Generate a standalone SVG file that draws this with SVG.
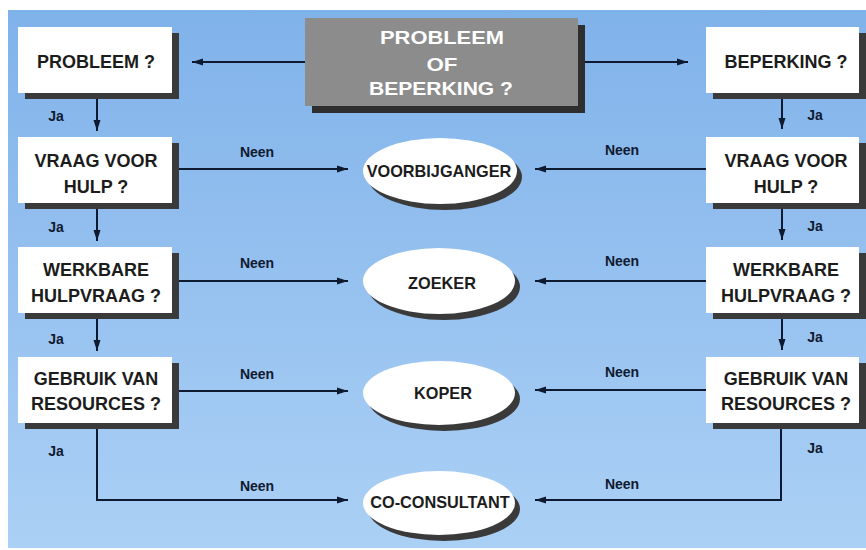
<svg xmlns="http://www.w3.org/2000/svg" width="866" height="550" viewBox="0 0 866 550">
<defs>
<linearGradient id="bg" x1="0" y1="0" x2="0" y2="1">
<stop offset="0" stop-color="#80b2ea"/>
<stop offset="1" stop-color="#abd0f5"/>
</linearGradient>
<marker id="arr" markerUnits="userSpaceOnUse" markerWidth="12" markerHeight="8" refX="11" refY="4" orient="auto">
<path d="M0,0.5 L11,4 L0,7.5 z" fill="#0e1a30"/>
</marker>
<style>
.ln{fill:none;stroke:#0e1a30;stroke-width:2}
.box{fill:#ffffff}
.sh{fill:#3a3a3a}
.t{font-family:"Liberation Sans",Arial,sans-serif;font-weight:bold;font-size:18px;fill:#1c1c1c;text-anchor:middle}
.e{font-family:"Liberation Sans",Arial,sans-serif;font-weight:bold;font-size:16.3px;fill:#1c1c1c;text-anchor:middle}
.c{font-family:"Liberation Sans",Arial,sans-serif;font-weight:bold;font-size:19px;fill:#ffffff;text-anchor:middle}
.l{font-family:"Liberation Sans",Arial,sans-serif;font-weight:bold;font-size:14px;fill:#101a30;text-anchor:middle}
</style>
</defs>
<rect x="0" y="0" width="866" height="550" fill="#ffffff"/>
<rect x="8" y="10" width="858" height="538" fill="url(#bg)"/>

<g id="connectors">
<line class="ln" x1="305" y1="62" x2="192" y2="62" marker-end="url(#arr)"/>
<line class="ln" x1="578" y1="62" x2="688" y2="62" marker-end="url(#arr)"/>
<line class="ln" x1="97" y1="99" x2="97" y2="131" marker-end="url(#arr)"/>
<line class="ln" x1="97" y1="209" x2="97" y2="241" marker-end="url(#arr)"/>
<line class="ln" x1="97" y1="319" x2="97" y2="351" marker-end="url(#arr)"/>
<line class="ln" x1="782" y1="99" x2="782" y2="129" marker-end="url(#arr)"/>
<line class="ln" x1="782" y1="209" x2="782" y2="240" marker-end="url(#arr)"/>
<line class="ln" x1="782" y1="319" x2="782" y2="350" marker-end="url(#arr)"/>
<line class="ln" x1="172" y1="169" x2="348" y2="169" marker-end="url(#arr)"/>
<line class="ln" x1="172" y1="281" x2="348" y2="281" marker-end="url(#arr)"/>
<line class="ln" x1="172" y1="391" x2="348" y2="391" marker-end="url(#arr)"/>
<polyline class="ln" points="97,423 97,500 348,500" marker-end="url(#arr)"/>
<line class="ln" x1="706" y1="169" x2="535" y2="169" marker-end="url(#arr)"/>
<line class="ln" x1="706" y1="281" x2="535" y2="281" marker-end="url(#arr)"/>
<line class="ln" x1="706" y1="390" x2="535" y2="390" marker-end="url(#arr)"/>
<polyline class="ln" points="781,423 781,500 535,500" marker-end="url(#arr)"/>
<text class="l" x="56" y="121">Ja</text>
<text class="l" x="56" y="232">Ja</text>
<text class="l" x="56" y="344">Ja</text>
<text class="l" x="56" y="456">Ja</text>
<text class="l" x="815" y="120">Ja</text>
<text class="l" x="815" y="231">Ja</text>
<text class="l" x="815" y="342">Ja</text>
<text class="l" x="815" y="453">Ja</text>
<text class="l" x="257" y="157">Neen</text>
<text class="l" x="257" y="268">Neen</text>
<text class="l" x="257" y="379">Neen</text>
<text class="l" x="257" y="491">Neen</text>
<text class="l" x="622" y="155">Neen</text>
<text class="l" x="622" y="266">Neen</text>
<text class="l" x="622" y="377">Neen</text>
<text class="l" x="622" y="489">Neen</text>
</g>

<g id="start">
<rect x="312" y="25" width="273" height="88" fill="#2e2e2e"/>
<rect x="305" y="18" width="273" height="88" fill="#8c8c8c"/>
<text class="c" x="442" y="44" textLength="124" lengthAdjust="spacingAndGlyphs">PROBLEEM</text>
<text class="c" x="442" y="71" textLength="31" lengthAdjust="spacingAndGlyphs">OF</text>
<text class="c" x="441" y="95" textLength="144" lengthAdjust="spacingAndGlyphs">BEPERKING ?</text>
</g>

<g id="probleem">
<rect class="sh" x="25" y="33" width="154" height="66"/>
<rect class="box" x="18" y="27" width="154" height="66"/>
<text class="t" x="96" y="68">PROBLEEM ?</text>
</g>
<g id="vraag-l">
<rect class="sh" x="25" y="143" width="154" height="66"/>
<rect class="box" x="18" y="137" width="154" height="66"/>
<text class="t" x="96" y="167">VRAAG VOOR</text>
<text class="t" x="96" y="193">HULP ?</text>
</g>
<g id="werkbare-l">
<rect class="sh" x="25" y="253" width="154" height="66"/>
<rect class="box" x="18" y="247" width="154" height="66"/>
<text class="t" x="96" y="276">WERKBARE</text>
<text class="t" x="96" y="302">HULPVRAAG ?</text>
</g>
<g id="gebruik-l">
<rect class="sh" x="25" y="363" width="154" height="66"/>
<rect class="box" x="18" y="357" width="154" height="66"/>
<text class="t" x="96" y="385">GEBRUIK VAN</text>
<text class="t" x="96" y="410">RESOURCES ?</text>
</g>

<g id="beperking">
<rect class="sh" x="713" y="33" width="154" height="66"/>
<rect class="box" x="706" y="27" width="153" height="66"/>
<text class="t" x="786" y="68">BEPERKING ?</text>
</g>
<g id="vraag-r">
<rect class="sh" x="713" y="143" width="154" height="66"/>
<rect class="box" x="706" y="137" width="153" height="66"/>
<text class="t" x="786" y="167">VRAAG VOOR</text>
<text class="t" x="786" y="193">HULP ?</text>
</g>
<g id="werkbare-r">
<rect class="sh" x="713" y="253" width="154" height="66"/>
<rect class="box" x="706" y="247" width="153" height="66"/>
<text class="t" x="786" y="276">WERKBARE</text>
<text class="t" x="786" y="302">HULPVRAAG ?</text>
</g>
<g id="gebruik-r">
<rect class="sh" x="713" y="363" width="154" height="66"/>
<rect class="box" x="706" y="357" width="153" height="66"/>
<text class="t" x="786" y="385">GEBRUIK VAN</text>
<text class="t" x="786" y="410">RESOURCES ?</text>
</g>

<g id="voorbijganger">
<ellipse cx="445" cy="177" rx="77" ry="33" fill="#3a3a3a"/>
<ellipse cx="440" cy="171" rx="77" ry="33" fill="#ffffff"/>
<text class="e" x="439" y="177">VOORBIJGANGER</text>
</g>
<g id="zoeker">
<ellipse cx="444" cy="287" rx="76" ry="33" fill="#3a3a3a"/>
<ellipse cx="439" cy="281" rx="76" ry="33" fill="#ffffff"/>
<text class="e" x="442" y="289">ZOEKER</text>
</g>
<g id="koper">
<ellipse cx="444" cy="399" rx="76" ry="32" fill="#3a3a3a"/>
<ellipse cx="439" cy="393" rx="76" ry="32" fill="#ffffff"/>
<text class="e" x="443" y="399">KOPER</text>
</g>
<g id="co-consultant">
<ellipse cx="444" cy="509" rx="76" ry="32" fill="#3a3a3a"/>
<ellipse cx="439" cy="503" rx="76" ry="32" fill="#ffffff"/>
<text class="e" x="440" y="508">CO-CONSULTANT</text>
</g>
</svg>
